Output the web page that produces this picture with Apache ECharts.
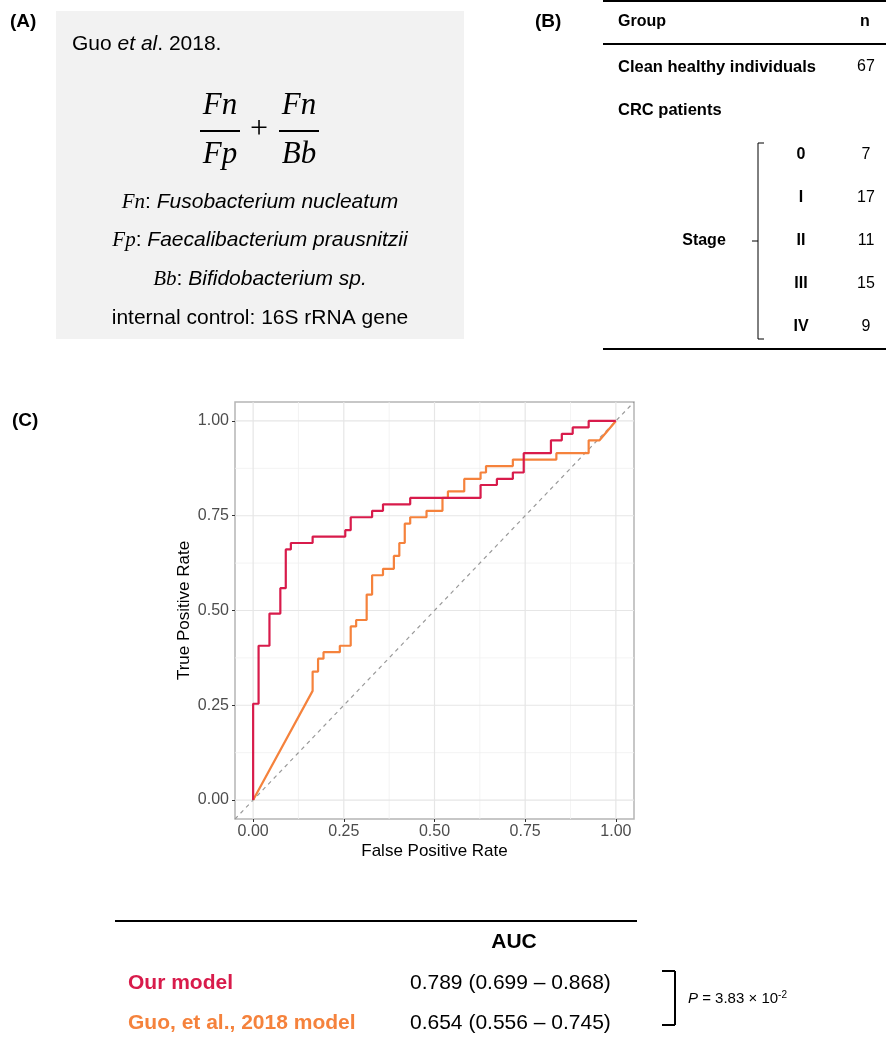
<!DOCTYPE html>
<html>
<head>
<meta charset="utf-8">
<script src="https://cdn.jsdelivr.net/npm/echarts@6/dist/echarts.min.js"></script>
<style>
    html, body { margin: 0; padding: 0; background: #fff; }
    #main { width: 886px; height: 1037px; }
</style>
</head>
<body>
<div id="main"></div>
<script>
// ROC 曲线顶点 (our model)
var ourFpr = [0, 0, 0.015, 0.015, 0.045, 0.045, 0.075, 0.075, 0.090, 0.090, 0.104, 0.104, 0.164, 0.164, 0.254, 0.254, 0.269, 0.269, 0.328, 0.328, 0.358, 0.358, 0.433, 0.433, 0.627, 0.627, 0.672, 0.672, 0.716, 0.716, 0.746, 0.746, 0.821, 0.821, 0.851, 0.851, 0.881, 0.881, 0.925, 0.925, 1];
var ourTpr = [0, 0.254, 0.254, 0.407, 0.407, 0.492, 0.492, 0.559, 0.559, 0.661, 0.661, 0.678, 0.678, 0.695, 0.695, 0.712, 0.712, 0.746, 0.746, 0.763, 0.763, 0.780, 0.780, 0.797, 0.797, 0.831, 0.831, 0.847, 0.847, 0.864, 0.864, 0.915, 0.915, 0.949, 0.949, 0.966, 0.966, 0.983, 0.983, 1, 1];
// ROC 曲线顶点 (Guo et al. 2018)
var guoFpr = [0, 0.164, 0.164, 0.179, 0.179, 0.194, 0.194, 0.239, 0.239, 0.269, 0.269, 0.284, 0.284, 0.313, 0.313, 0.328, 0.328, 0.358, 0.358, 0.388, 0.388, 0.403, 0.403, 0.418, 0.418, 0.433, 0.433, 0.478, 0.478, 0.522, 0.522, 0.537, 0.537, 0.582, 0.582, 0.627, 0.627, 0.642, 0.642, 0.716, 0.716, 0.836, 0.836, 0.925, 0.925, 0.955, 1];
var guoTpr = [0, 0.288, 0.339, 0.339, 0.373, 0.373, 0.390, 0.390, 0.407, 0.407, 0.458, 0.458, 0.475, 0.475, 0.542, 0.542, 0.593, 0.593, 0.610, 0.610, 0.644, 0.644, 0.678, 0.678, 0.729, 0.729, 0.746, 0.746, 0.763, 0.763, 0.797, 0.797, 0.814, 0.814, 0.847, 0.847, 0.864, 0.864, 0.881, 0.881, 0.898, 0.898, 0.915, 0.915, 0.949, 0.949, 1];
var axisTicks = [0, 0.25, 0.5, 0.75, 1];
var gridMinor = [0.125, 0.375, 0.625, 0.875];

// (B) 表格
var groupNames = ['Clean healthy individuals', 'CRC patients'];
var groupCounts = ['67', ''];
var stageNames = ['0', 'I', 'II', 'III', 'IV'];
var stageCounts = ['7', '17', '11', '15', '9'];

// AUC 表
var modelNames = ['Our model', 'Guo, et al., 2018 model'];
var modelAuc = ['0.789 (0.699 \u2013 0.868)', '0.654 (0.556 \u2013 0.745)'];
var pValueText = '3.83';

var RED = '#d81b4b';
var ORANGE = '#f5823c';
var SANS = 'Liberation Sans, Arial, sans-serif';
var SERIF = 'Liberation Serif, Times New Roman, serif';
var LO = -0.05, HI = 1.05; // 坐标轴范围 (ggplot 默认扩展 5%)

function zip(xs, ys) {
    var out = [];
    for (var i = 0; i < xs.length; i++) {
        out.push([xs[i], ys[i]]);
    }
    return out;
}

// 文本元素
function txt(x, y, str, opt) {
    opt = opt || {};
    return {
        type: 'text',
        x: x,
        y: y,
        silent: true,
        z: 10,
        style: {
            text: str,
            fontFamily: opt.family || SANS,
            fontSize: opt.size || 16,
            fontWeight: opt.weight || 'normal',
            fontStyle: opt.italic ? 'italic' : 'normal',
            fill: opt.color || '#000',
            align: opt.align || 'left',
            verticalAlign: 'middle',
            rich: opt.rich
        }
    };
}

// 线段元素
function seg(x1, y1, x2, y2, w) {
    return {
        type: 'line',
        silent: true,
        z: 10,
        shape: {x1: x1, y1: y1, x2: x2, y2: y2},
        style: {stroke: '#000', lineWidth: w || 1.5}
    };
}

var graphics = [];

// ---- (A) ----
graphics.push(txt(10, 22, '(A)', {size: 19, weight: 'bold'}));
graphics.push({
    type: 'rect', silent: true, z: 1,
    shape: {x: 56, y: 11, width: 408, height: 328},
    style: {fill: '#f2f2f2'}
});
graphics.push(txt(72, 44, '{n|Guo }{i|et al}{n|. 2018.}', {
    size: 21,
    rich: {n: {fontSize: 21, fontFamily: SANS}, i: {fontSize: 21, fontFamily: SANS, fontStyle: 'italic'}}
}));
// 公式 Fn/Fp + Fn/Bb
var mathOpt = {family: SERIF, size: 31, italic: true, align: 'center'};
graphics.push(txt(220, 106, 'Fn', mathOpt));
graphics.push(txt(220, 155, 'Fp', mathOpt));
graphics.push(seg(200, 131, 240, 131, 2.2));
graphics.push(txt(259, 130, '+', {family: SERIF, size: 32, align: 'center'}));
graphics.push(txt(299, 106, 'Fn', mathOpt));
graphics.push(txt(299, 155, 'Bb', mathOpt));
graphics.push(seg(279, 131, 319, 131, 2.2));

var speciesRich = {
    m: {fontSize: 21, fontFamily: SERIF, fontStyle: 'italic'},
    c: {fontSize: 21, fontFamily: SANS},
    i: {fontSize: 21, fontFamily: SANS, fontStyle: 'italic'}
};
graphics.push(txt(260, 202, '{m|Fn}{c|: }{i|Fusobacterium nucleatum}', {align: 'center', rich: speciesRich}));
graphics.push(txt(260, 240, '{m|Fp}{c|: }{i|Faecalibacterium prausnitzii}', {align: 'center', rich: speciesRich}));
graphics.push(txt(260, 279, '{m|Bb}{c|: }{i|Bifidobacterium sp.}', {align: 'center', rich: speciesRich}));
graphics.push(txt(260, 318, 'internal control: 16S rRNA gene', {size: 21, align: 'center'}));

// ---- (B) ----
graphics.push(txt(535, 22, '(B)', {size: 19, weight: 'bold'}));
graphics.push(seg(603, 1, 886, 1, 2));
graphics.push(seg(603, 44, 886, 44, 2));
graphics.push(seg(603, 349, 886, 349, 2));
graphics.push(txt(618, 22, 'Group', {size: 16, weight: 'bold'}));
graphics.push(txt(865, 22, 'n', {size: 16, weight: 'bold', align: 'center'}));
for (var g = 0; g < groupNames.length; g++) {
    graphics.push(txt(618, 67 + g * 43, groupNames[g], {size: 16.5, weight: 'bold'}));
    graphics.push(txt(866, 67 + g * 43, groupCounts[g], {size: 16, align: 'center'}));
}
for (var s = 0; s < stageNames.length; s++) {
    var sy = 155 + s * 43;
    graphics.push(txt(801, sy, stageNames[s], {size: 16, weight: 'bold', align: 'center'}));
    graphics.push(txt(866, sy, stageCounts[s], {size: 16, align: 'center'}));
}
graphics.push(txt(704, 241, 'Stage', {size: 16, weight: 'bold', align: 'center'}));
// 花括号
graphics.push(seg(758, 143, 758, 339, 1));
graphics.push(seg(758, 143, 764, 143, 1));
graphics.push(seg(758, 339, 764, 339, 1));
graphics.push(seg(752, 241, 758, 241, 1));

// ---- (C) ----
graphics.push(txt(12, 421, '(C)', {size: 19, weight: 'bold'}));

// ---- AUC 表 ----
graphics.push(seg(115, 921, 637, 921, 2));
graphics.push(txt(514, 942, 'AUC', {size: 21, weight: 'bold', align: 'center'}));
var modelColors = [RED, ORANGE];
for (var m = 0; m < modelNames.length; m++) {
    graphics.push(txt(128, 983 + m * 40, modelNames[m], {size: 21, weight: 'bold', color: modelColors[m]}));
    graphics.push(txt(410, 983 + m * 40, modelAuc[m], {size: 21}));
}
graphics.push(seg(675, 971, 675, 1025, 2));
graphics.push(seg(662, 971, 675, 971, 2));
graphics.push(seg(662, 1025, 675, 1025, 2));
graphics.push(txt(688, 999, '{i|P}{n| = ' + pValueText + ' \u00d7 10}{s|-2}', {
    size: 14,
    rich: {
        i: {fontSize: 15, fontFamily: SANS, fontStyle: 'italic', lineHeight: 18},
        n: {fontSize: 15, fontFamily: SANS, lineHeight: 18},
        s: {fontSize: 10, fontFamily: SANS, verticalAlign: 'top', lineHeight: 18}
    }
}));

// 网格线 (放在曲线下方)
var series = [];
function gridSeries(v, vertical, color, width) {
    return {
        type: 'line',
        data: vertical ? [[v, LO], [v, HI]] : [[LO, v], [HI, v]],
        symbol: 'none', silent: true,
        lineStyle: {color: color, width: width},
        z: 0
    };
}
for (var q = 0; q < gridMinor.length; q++) {
    series.push(gridSeries(gridMinor[q], true, '#f0f0f0', 0.8));
    series.push(gridSeries(gridMinor[q], false, '#f0f0f0', 0.8));
}
for (var k = 0; k < axisTicks.length; k++) {
    series.push(gridSeries(axisTicks[k], true, '#e6e6e6', 1.2));
    series.push(gridSeries(axisTicks[k], false, '#e6e6e6', 1.2));
}
// 对角参考线
series.push({
    type: 'line',
    data: [[LO, LO], [HI, HI]],
    symbol: 'none', silent: true,
    lineStyle: {color: '#9a9a9a', width: 1.2, type: [4, 4]},
    z: 1
});
series.push({
    type: 'line', name: 'Guo',
    data: zip(guoFpr, guoTpr),
    symbol: 'none', silent: true,
    lineStyle: {color: ORANGE, width: 2.2},
    z: 3
});
series.push({
    type: 'line', name: 'Our',
    data: zip(ourFpr, ourTpr),
    symbol: 'none', silent: true,
    lineStyle: {color: RED, width: 2.2},
    z: 4
});

var option = {
    animation: false,
    backgroundColor: '#fff',
    grid: {
        left: 235, top: 402, width: 399, height: 417,
        show: true, borderColor: '#b5b5b5', borderWidth: 1.5, backgroundColor: 'transparent'
    },
    xAxis: {
        type: 'value', min: LO, max: HI,
        name: 'False Positive Rate', nameLocation: 'middle', nameGap: 24,
        nameTextStyle: {fontFamily: SANS, fontSize: 17, color: '#000'},
        axisLine: {show: false, onZero: false},
        splitLine: {show: false},
        axisTick: {show: true, customValues: axisTicks, length: 3, lineStyle: {color: '#333'}},
        axisLabel: {
            customValues: axisTicks, margin: 5,
            fontFamily: SANS, fontSize: 16, color: '#4d4d4d',
            formatter: function (v) { return v.toFixed(2); }
        }
    },
    yAxis: {
        type: 'value', min: LO, max: HI,
        name: 'True Positive Rate', nameLocation: 'middle', nameGap: 42,
        nameTextStyle: {fontFamily: SANS, fontSize: 17, color: '#000'},
        axisLine: {show: false, onZero: false},
        splitLine: {show: false},
        axisTick: {show: true, customValues: axisTicks, length: 3, lineStyle: {color: '#333'}},
        axisLabel: {
            customValues: axisTicks, margin: 6,
            fontFamily: SANS, fontSize: 16, color: '#4d4d4d',
            formatter: function (v) { return v.toFixed(2); }
        }
    },
    series: series,
    graphic: graphics
};

echarts.init(document.getElementById('main')).setOption(option);
</script>
</body>
</html>
